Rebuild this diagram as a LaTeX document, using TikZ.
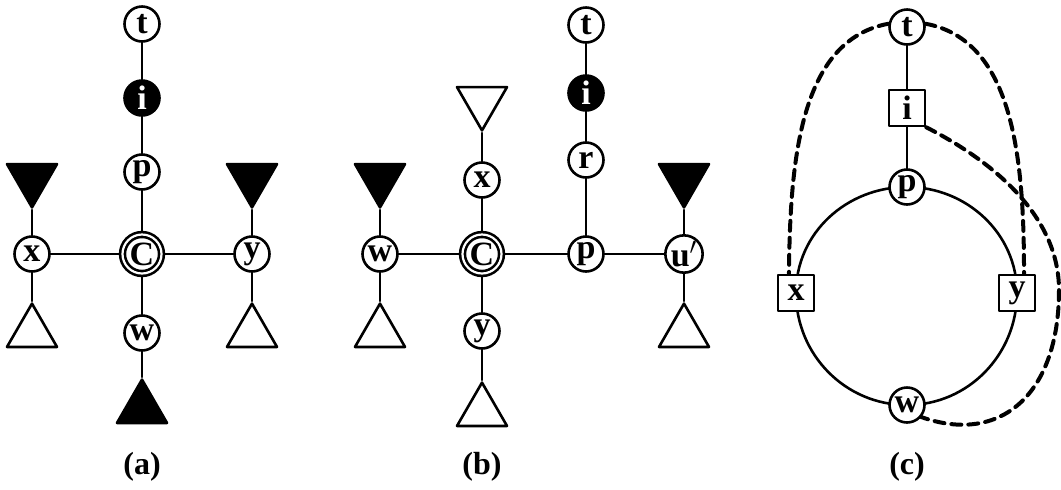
\documentclass[tikz,border=0pt]{standalone}
\usepackage{fontspec}
\setmainfont{Liberation Serif}
\usetikzlibrary{shapes.geometric,backgrounds}
\begin{document}
\begin{tikzpicture}[x=0.5pt,y=-0.5pt,line cap=round,line join=round,line width=1.3pt,
  vtx/.style={circle,draw,line width=1.3pt,fill=white,minimum size=17.5pt,inner sep=0pt,
    font=\bfseries\fontsize{17}{17}\selectfont},
  blk/.style={vtx,fill=black,text=white},
  ctr/.style={vtx,double,double distance=1.1pt,minimum size=19.5pt},
  sqr/.style={vtx,rectangle,minimum size=18pt},
  tri/.style={regular polygon,regular polygon sides=3,draw,line width=1.3pt,
    minimum size=28.9pt,inner sep=0pt,anchor=corner 1},
  tup/.style={tri},
  tdn/.style={tri,shape border rotate=180},
  lnk/.style={line width=2pt,dash pattern=on 5pt off 3.5pt},
  lbl/.style={font=\bfseries\fontsize{16}{16}\selectfont}]
  \useasboundingbox (0,0) rectangle (1061,489);
  % (a)
  \node[vtx] (ta) at (142,24) {t};
  \node[blk] (ia) at (142,98) {i};
  \node[vtx] (pa) at (142,172) {p};
  \node[ctr] (Ca) at (142,254) {C};
  \node[vtx] (xa) at (32,254) {x};
  \node[vtx] (ya) at (252,254) {y};
  \node[vtx] (wa) at (142,333) {w};
  \node[tdn,fill=black] (xa1) at (32,210) {};
  \node[tup] (xa2) at (32,301) {};
  \node[tdn,fill=black] (ya1) at (252,210) {};
  \node[tup] (ya2) at (252,301) {};
  \node[tup,fill=black] (wa1) at (142,377) {};
  \node[lbl] (la) at (142,467) {(a)};
  % (b)
  \node[vtx] (tb) at (586,25) {t};
  \node[blk] (ib) at (586,93) {i};
  \node[vtx] (rb) at (586,160) {r};
  \node[vtx] (pb) at (586,254) {p};
  \node[ctr] (Cb) at (482,254) {C};
  \node[vtx] (xb) at (482,180) {x};
  \node[vtx] (yb) at (482,331) {y};
  \node[vtx] (wb) at (380,254) {w};
  \node[vtx] (ub) at (684,254) {u$'$};
  \node[tdn] (xb1) at (482,133) {};
  \node[tdn,fill=black] (wb1) at (380,210) {};
  \node[tup] (wb2) at (380,301) {};
  \node[tup] (yb1) at (482,380) {};
  \node[tdn,fill=black] (ub1) at (684,210) {};
  \node[tup] (ub2) at (684,301) {};
  \node[lbl] (lb) at (482,467) {(b)};
  % (c)
  \node[vtx] (tc) at (907,27) {t};
  \node[sqr] (ic) at (907,108) {i};
  \node[vtx] (pc) at (907,187) {p};
  \node[sqr] (xc) at (796,293) {x};
  \node[sqr] (yc) at (1017,293) {y};
  \node[vtx] (wc) at (907,405) {w};
  \node[lbl] (lc) at (907,467) {(c)};
  \begin{scope}[on background layer={line width=1.3pt,line cap=round,line join=round}]
    \draw (ta) -- (ia) -- (pa) -- (Ca) -- (wa) -- (wa1.corner 1);
    \draw (xa) -- (Ca) -- (ya);
    \draw (xa1.corner 1) -- (xa) -- (xa2.corner 1);
    \draw (ya1.corner 1) -- (ya) -- (ya2.corner 1);
    \draw (tb) -- (ib) -- (rb) -- (pb);
    \draw (wb) -- (Cb) -- (pb) -- (ub);
    \draw (xb1.corner 1) -- (xb) -- (Cb) -- (yb) -- (yb1.corner 1);
    \draw (wb1.corner 1) -- (wb) -- (wb2.corner 1);
    \draw (ub1.corner 1) -- (ub) -- (ub2.corner 1);
    \draw (tc) -- (ic) -- (pc);
    \draw (pc.center) to[out=0,in=90] (yc.center) to[out=270,in=0] (wc.center)
      to[out=180,in=270] (xc.center) to[out=90,in=180] (pc.center);
  \end{scope}
  \draw[lnk] (tc.170) .. controls (800,40) and (790,160) .. (xc.110);
  \draw[lnk] (tc.10) .. controls (1014,40) and (1024,160) .. (yc.70);
  \draw[lnk] (ic.south east) .. controls (1000,165) and (1059,220) .. (1059,290)
    .. controls (1059,395) and (1000,445) .. (wc.320);
\end{tikzpicture}
\end{document}
